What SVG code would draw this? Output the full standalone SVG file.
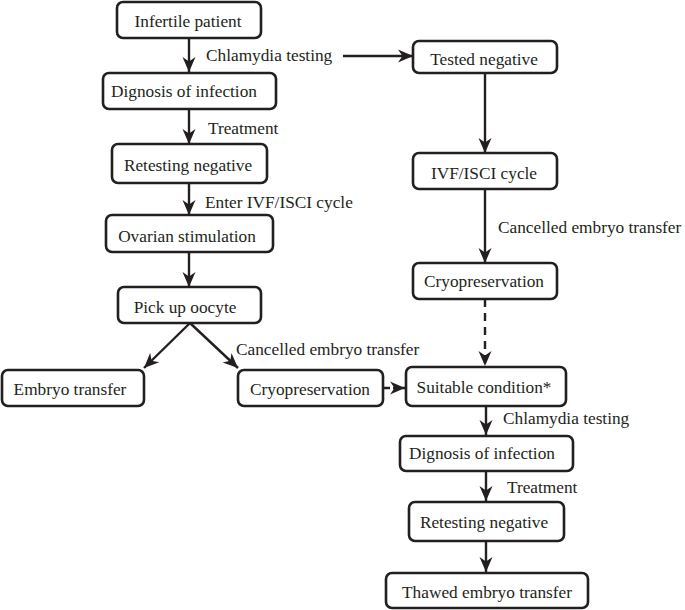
<svg xmlns="http://www.w3.org/2000/svg" width="685" height="610" viewBox="0 0 685 610" font-family="Liberation Serif, Times New Roman, serif" font-size="17.3">
<style>
.box{fill:#fff;stroke:#231f20;stroke-width:2.6}
.t{text-anchor:middle}
text{fill:#231f20}
.c{stroke:#231f20;stroke-width:2.4;fill:none}
.d{stroke-dasharray:8 6}
</style>
<defs>
<marker id="ah" markerUnits="userSpaceOnUse" markerWidth="16" markerHeight="16" viewBox="0 0 16 16" refX="15" refY="8" orient="auto">
<path d="M0,1.5 L15,8 L0,14.5 L4.5,8 z" fill="#231f20"/>
</marker>
</defs>
<g id="connectors">
<path class="c" d="M189,38 V72" marker-end="url(#ah)"/>
<path class="c" d="M343,56 H413" marker-end="url(#ah)"/>
<path class="c" d="M189,109 V144" marker-end="url(#ah)"/>
<path class="c" d="M189,183 V215" marker-end="url(#ah)"/>
<path class="c" d="M189,252 V287" marker-end="url(#ah)"/>
<path class="c" d="M190,323 L144,368" marker-end="url(#ah)"/>
<path class="c" d="M190,323 L238,368" marker-end="url(#ah)"/>
<path class="c" d="M384,388 H405" stroke-dasharray="6 3" marker-end="url(#ah)"/>
<path class="c" d="M485,73 V153" marker-end="url(#ah)"/>
<path class="c" d="M485,189 V263" marker-end="url(#ah)"/>
<path class="c d" d="M485,299 V366" marker-end="url(#ah)"/>
<path class="c" d="M486,406 V435" marker-end="url(#ah)"/>
<path class="c" d="M486,471 V501" marker-end="url(#ah)"/>
<path class="c" d="M486,541 V572" marker-end="url(#ah)"/>
</g>
<g id="labels">
<text x="206" y="61">Chlamydia testing</text>
<text x="208" y="134">Treatment</text>
<text x="205" y="208">Enter IVF/ISCI cycle</text>
<text x="236" y="355">Cancelled embryo transfer</text>
<text x="498" y="233">Cancelled embryo transfer</text>
<text x="503" y="424">Chlamydia testing</text>
<text x="507" y="493">Treatment</text>
</g>
<g id="infertile"><rect class="box" x="117" y="2" width="144" height="36" rx="6"/><text class="t" x="188" y="27">Infertile patient</text></g>
<g id="diagnosis1"><rect class="box" x="103" y="73" width="173" height="36" rx="6"/><text class="t" x="184" y="97">Dignosis of infection</text></g>
<g id="retest1"><rect class="box" x="112" y="144" width="155" height="39" rx="6"/><text class="t" x="188" y="171">Retesting negative</text></g>
<g id="ovarian"><rect class="box" x="106" y="215" width="167" height="37" rx="6"/><text class="t" x="187" y="242">Ovarian stimulation</text></g>
<g id="pickup"><rect class="box" x="118" y="287" width="143" height="36" rx="6"/><text class="t" x="185" y="313">Pick up oocyte</text></g>
<g id="embryo"><rect class="box" x="2" y="370" width="142" height="36" rx="6"/><text class="t" x="70" y="395">Embryo transfer</text></g>
<g id="cryo1"><rect class="box" x="238" y="370" width="145" height="36" rx="6"/><text class="t" x="310" y="395">Cryopreservation</text></g>
<g id="tested"><rect class="box" x="413" y="41" width="144" height="32" rx="6"/><text class="t" x="484" y="65">Tested negative</text></g>
<g id="ivf"><rect class="box" x="413" y="153" width="144" height="36" rx="6"/><text class="t" x="484" y="179">IVF/ISCI cycle</text></g>
<g id="cryo2"><rect class="box" x="413" y="263" width="144" height="36" rx="6"/><text class="t" x="484" y="287">Cryopreservation</text></g>
<g id="suitable"><rect class="box" x="406" y="367" width="160" height="39" rx="6"/><text class="t" x="484" y="393">Suitable condition*</text></g>
<g id="diagnosis2"><rect class="box" x="400" y="436" width="173" height="35" rx="6"/><text class="t" x="482" y="459">Dignosis of infection</text></g>
<g id="retest2"><rect class="box" x="409" y="502" width="155" height="39" rx="6"/><text class="t" x="484" y="528">Retesting negative</text></g>
<g id="thawed"><rect class="box" x="386" y="573" width="202" height="35" rx="6"/><text class="t" x="487" y="598">Thawed embryo transfer</text></g>
</svg>
